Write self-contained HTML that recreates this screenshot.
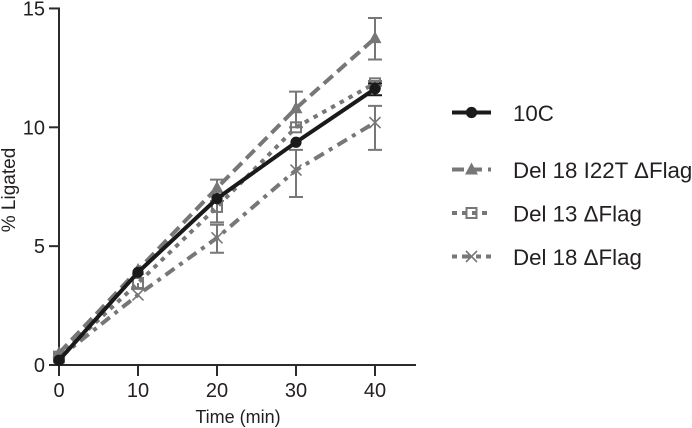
<!DOCTYPE html>
<html><head><meta charset="utf-8"><title>% Ligated over time</title>
<style>
html,body{margin:0;padding:0;background:#fff;width:692px;height:428px;overflow:hidden}
svg{display:block}
text{font-family:"Liberation Sans",sans-serif;fill:#231f20}
</style></head>
<body>
<svg id="chart" width="692" height="428" viewBox="0 0 692 428" xmlns="http://www.w3.org/2000/svg"></svg>
<script>
const times = [0, 10, 20, 30, 40];
const xTicks = [0, 10, 20, 30, 40];
const yTicks = [0, 5, 10, 15];
const seriesNames = ['Del 18 \u0394Flag', 'Del 13 \u0394Flag', 'Del 18 I22T \u0394Flag', '10C'];
const del18 = [0.3, 2.95, 5.35, 8.2, 10.2];
const del18Upper = [0.3, 2.95, 5.9, 9.05, 10.9];
const del18Lower = [0.3, 2.95, 4.72, 7.07, 9.05];
const del13 = [0.35, 3.45, 6.65, 10.0, 11.85];
const del13Upper = [0.35, 3.45, 6.9, 10.0, 11.95];
const del13Lower = [0.35, 3.2, 6.0, 10.0, 11.75];
const i22t = [0.5, 4.0, 7.45, 10.8, 13.75];
const i22tUpper = [0.5, 4.0, 7.8, 11.5, 14.6];
const i22tLower = [0.5, 4.0, 7.1, 10.0, 12.85];
const c10 = [0.2, 3.9, 7.0, 9.37, 11.62];
const c10Upper = [0.2, 3.9, 7.0, 9.37, 11.85];
const c10Lower = [0.2, 3.9, 7.0, 9.37, 11.35];

const NS = 'http://www.w3.org/2000/svg';
const svg = document.getElementById('chart');
const sx = v => 59 + v * 7.9;
const sy = v => 365 - v * 23.77;
const GREY = '#777777', BLACK = '#1a1a1a', AXIS = '#2b2b2b';

function make(tag, attrs, parent) {
  const el = document.createElementNS(NS, tag);
  for (const k in attrs) el.setAttribute(k, attrs[k]);
  (parent || svg).appendChild(el);
  return el;
}
function marker(kind, x, y, color, parent) {
  if (kind === 'circle') {
    make('circle', {cx: x, cy: y, r: 5.6, fill: color}, parent);
  } else if (kind === 'triangle') {
    make('polygon', {points: `${x},${y-7} ${x+6.5},${y+5} ${x-6.5},${y+5}`, fill: color}, parent);
  } else if (kind === 'square') {
    make('rect', {x: x-5, y: y-5, width: 10, height: 10, fill: 'none', stroke: color, 'stroke-width': 2}, parent);
  } else {
    make('path', {d: `M${x-5.5} ${y-5.5}L${x+5.5} ${y+5.5}M${x-5.5} ${y+5.5}L${x+5.5} ${y-5.5}`, stroke: color, 'stroke-width': 1.6, fill: 'none'}, parent);
  }
}
const series = [
  {key: 'del-18', name: seriesNames[0], vals: del18, up: del18Upper, lo: del18Lower, kind: 'cross', color: GREY, dash: '11 6 4 6'},
  {key: 'del-13', name: seriesNames[1], vals: del13, up: del13Upper, lo: del13Lower, kind: 'square', color: GREY, dash: '4.5 5.5'},
  {key: 'del-18-i22t', name: seriesNames[2], vals: i22t, up: i22tUpper, lo: i22tLower, kind: 'triangle', color: GREY, dash: '12 6'},
  {key: '10c', name: seriesNames[3], vals: c10, up: c10Upper, lo: c10Lower, kind: 'circle', color: BLACK, dash: ''}
];

// axes
const yAxis = make('line', {x1: 59, y1: sy(yTicks[yTicks.length-1]) - 1, x2: 59, y2: 375, stroke: AXIS, 'stroke-width': 2});


const xAxis = make('line', {x1: 49, y1: 365, x2: 416, y2: 365, stroke: AXIS, 'stroke-width': 2});


yTicks.forEach(v => {
  if (v !== 0) {
    const t = make('line', {x1: 49, y1: sy(v), x2: 59, y2: sy(v), stroke: AXIS, 'stroke-width': 2});
    
    
  }
  const l = make('text', {x: 45, y: sy(v) + 7, 'text-anchor': 'end', 'font-size': 20});
  l.textContent = v;
  
  
});
xTicks.forEach(v => {
  const t = make('line', {x1: sx(v), y1: 365, x2: sx(v), y2: 376, stroke: AXIS, 'stroke-width': 2});
  
  
  const l = make('text', {x: sx(v), y: 397, 'text-anchor': 'middle', 'font-size': 20});
  l.textContent = v;
  
  
});
const xTitle = make('text', {x: 238, y: 423, 'text-anchor': 'middle', 'font-size': 18});
xTitle.textContent = 'Time (min)';


const yTitle = make('text', {x: 0, y: 0, 'text-anchor': 'middle', 'font-size': 19, transform: 'translate(15 190) rotate(-90)'});
yTitle.textContent = '% Ligated';



// series
series.forEach(s => {
  const g = make('g', {});
  
  
  times.forEach((t, i) => {
    const x = sx(t);
    if (s.up[i] === s.lo[i]) return;
    let d = `M${x} ${sy(s.up[i])}V${sy(s.lo[i])}`;
    if (s.up[i] !== s.vals[i]) d += `M${x-7} ${sy(s.up[i])}h14`;
    if (s.lo[i] !== s.vals[i]) d += `M${x-7} ${sy(s.lo[i])}h14`;
    const e = make('path', {d: d, stroke: s.color, 'stroke-width': 2, fill: 'none'}, g);
    
    
  });
  const pts = times.map((t, i) => sx(t) + ',' + sy(s.vals[i])).join(' ');
  const line = make('polyline', {points: pts, fill: 'none', stroke: s.color, 'stroke-width': 4, 'stroke-dasharray': s.dash || 'none'}, g);
  
  
  times.forEach((t, i) => {
    const m = make('g', {}, g);
    
    
    marker(s.kind, sx(t), sy(s.vals[i]), s.color, m);
  });
});

// legend
const legendRows = [
  {s: series[3], y: 112.5, dash: ''},
  {s: series[2], y: 169.5, dash: '12 6'},
  {s: series[1], y: 213, dash: '5 5'},
  {s: series[0], y: 256.5, dash: '5 5 9 5'}
];
legendRows.forEach(r => {
  const g = make('g', {});
  
  
  make('line', {x1: 452, y1: r.y, x2: 491, y2: r.y, stroke: r.s.color, 'stroke-width': 4, 'stroke-dasharray': r.dash || 'none'}, g);
  marker(r.s.kind, 471.5, r.y, r.s.color, g);
  const t = make('text', {x: 513, y: r.y + 8.5, 'font-size': 22.3}, g);
  t.textContent = r.s.name;
});
</script>
</body></html>
